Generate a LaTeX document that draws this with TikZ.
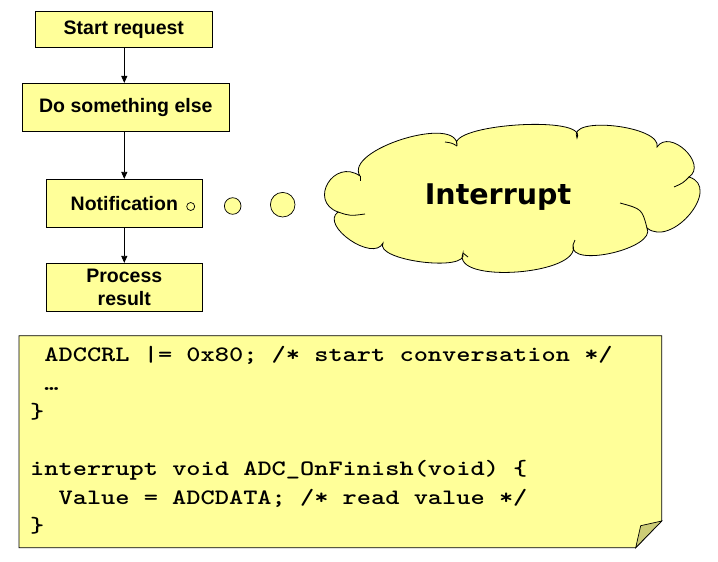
\documentclass[tikz,border=0pt]{standalone}
\usepackage{fontspec}
\usepackage{graphicx}
\setmainfont{Liberation Sans}
\newfontfamily\cloudfont{DejaVu Sans}
\usetikzlibrary{arrows.meta,calc}
\definecolor{pale}{HTML}{FFFF99}
\definecolor{foldc}{HTML}{CCCC77}
\newcommand\lobe[3]{.. controls ($0.4333*(#1)+1.3333*(#2)-0.7667*(#3)$) and ($0.4333*(#3)+1.3333*(#2)-0.7667*(#1)$) .. (#3)}
\newcommand\codetext[1]{\scalebox{1.23}[1]{#1}}
\tikzset{
  flowbox/.style={draw=black, fill=pale, line width=0.8pt, inner sep=0pt, align=center,
    font=\bfseries\fontsize{19.5}{23}\selectfont},
  arr/.style={-{Triangle[length=7pt,width=6pt]}, line width=0.8pt},
  bubble/.style={circle, draw=black, fill=pale, line width=0.7pt, inner sep=0pt},
  codeline/.style={anchor=base west, inner sep=0pt, font=\ttfamily\bfseries\fontsize{22}{26}\selectfont},
  outline/.style={draw=black, line width=0.8pt}
}
\begin{document}
\begin{tikzpicture}[x=1pt, y=-1pt]
\fill[white] (0,0) rectangle (718,562);
\useasboundingbox (0,0) rectangle (718,562);

% flowchart
\node[flowbox, minimum width=176.3pt, minimum height=35.6pt] (start) at (123.85,29.5) {Start request};
\node[flowbox, minimum width=207pt, minimum height=47.7pt] (do) at (125.8,107.2) {Do something else};
\node[flowbox, minimum width=156pt, minimum height=48pt] (notif) at (124.3,203.3) {Notification};
\node[flowbox, minimum width=156pt, minimum height=48.4pt] (proc) at (124.3,287.5) {Process\\result};

\draw[arr] (notif.north |- start.south) -- (notif.north |- do.north);
\draw[arr] (notif.north |- do.south) -- (notif.north);
\draw[arr] (notif.south) -- (proc.north);

% thought bubbles
\node[bubble, minimum size=8pt] (c1) at (190.7,206.5) {};
\node[bubble, minimum size=16.6pt] (c2) at (232.7,206) {};
\node[bubble, minimum size=24.6pt] (c3) at (282.7,204.7) {};

% cloud
\coordinate (A) at (360,176);
\coordinate (B) at (457,146);
\coordinate (C) at (577,138);
\coordinate (D) at (657,147);
\coordinate (E) at (689,177);
\coordinate (F) at (647,228);
\coordinate (G) at (573,245);
\coordinate (H) at (463,253);
\coordinate (I) at (383,243);
\coordinate (J) at (338,212);
\coordinate (mAB) at (403,139);
\coordinate (mBC) at (517,125);
\coordinate (mCD) at (615,126);
\coordinate (mDE) at (685,150);
\coordinate (mEF) at (690,214);
\coordinate (mFG) at (612,253);
\coordinate (mGH) at (517,272);
\coordinate (mHI) at (422,262);
\coordinate (mIJ) at (350,240);
\coordinate (mJA) at (328,183);
\path[outline, fill=pale] (A) \lobe{A}{mAB}{B} \lobe{B}{mBC}{C} \lobe{C}{mCD}{D}
  \lobe{D}{mDE}{E} \lobe{E}{mEF}{F} \lobe{F}{mFG}{G} \lobe{G}{mGH}{H}
  \lobe{H}{mHI}{I} \lobe{I}{mIJ}{J} \lobe{J}{mJA}{A} -- cycle;
% creases
\draw[line width=0.8pt] (J) .. controls (350,216) .. (365,214);
\draw[line width=0.8pt] (E) .. controls (683,183) .. (674,187);
\draw[line width=0.8pt] (620,203) .. controls (642,209) .. (F);
\draw[line width=0.8pt] (A) -- (360,181);
\draw[line width=0.8pt] (445,142) .. controls (452,143) .. (B);
\draw[line width=0.8pt] (G) -- (575,240);
\draw[line width=0.8pt] (H) -- (468,257);

\node[inner sep=0pt, font=\cloudfont\bfseries\fontsize{28.5}{30}\selectfont] (intr) at (498,197) {Interrupt};

% code note
\path[outline, fill=pale] (19,335.7) -- (661.7,335.7) -- (661.7,521) -- (635.7,547.7) -- (19,547.7) -- cycle;
\path[outline, fill=foldc, line width=0.7pt] (661.7,521) -- (640.7,525.7) -- (635.7,547.7) -- cycle;

\node[codeline] (l1) at (30,361.7) {\codetext{\phantom{A}ADCCRL |= 0x80; /* start conversation */}};
\node[codeline] (l2) at (30,390.2) {\codetext{\phantom{A}…}};
\node[codeline] (l3) at (30,418.7) {\codetext{\}}};
\node[codeline] (l4) at (30,475.7) {\codetext{interrupt void ADC\_OnFinish(void) \{}};
\node[codeline] (l5) at (30,504.2) {\codetext{\phantom{AA}Value = ADCDATA; /* read value */}};
\node[codeline] (l6) at (30,532.7) {\codetext{\}}};
\end{tikzpicture}
\end{document}
